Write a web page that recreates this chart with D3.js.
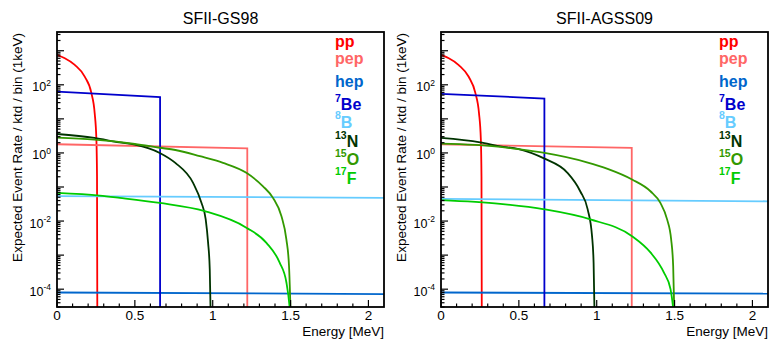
<!DOCTYPE html>
<html>
<head>
<meta charset="utf-8">
<script src="https://cdn.jsdelivr.net/npm/d3@7"></script>
<style>
  body { margin: 0; background: #fff; }
  svg { display: block; font-family: "Liberation Sans", Arial, Helvetica, sans-serif; }
</style>
</head>
<body>
<svg id="chart" width="773" height="347"></svg>
<script>
// categories
const sources = ["pp", "pep", "hep", "7Be", "8B", "13N", "15O", "17F"];
const colors = ["#ff0000", "#ff6666", "#0066cc", "#0000cc", "#66ccff", "#003300", "#339900", "#00cc00"];
const models = ["SFII-GS98", "SFII-AGSS09"];
const xTicks = [0, 0.5, 1, 1.5, 2];
const yLabelExps = [-4, -2, 0, 2];

// GS98 recoil spectra, [energy (MeV), rate]
const gs98_pp = [[0, 753], [0.017, 703], [0.05, 603], [0.114, 384], [0.178, 174], [0.221, 57], [0.242, 14.8], [0.253, 2.45], [0.257, 0.2], [0.259, 1e-5]];
const gs98_pep = [[0, 1.8], [1.222, 1.36], [1.222, 1e-5]];
const gs98_hep = [[0, 8.0e-5], [2.1, 7.2e-5]];
const gs98_be7 = [[0, 63.5], [0.662, 43.5], [0.662, 1e-5]];
const gs98_b8 = [[0, 0.054], [2.1, 0.048]];
const gs98_n13 = [[0, 3.6], [0.24, 2.75], [0.4, 2.04], [0.5, 1.75], [0.66, 1.0], [0.76, 0.51], [0.874, 0.132], [0.927, 0.035], [0.955, 0.0112], [0.97, 0.0024], [0.981, 3.8e-4], [0.988, 1e-5]];
const gs98_o15 = [[0, 2.8], [0.24, 2.45], [0.5, 1.83], [0.66, 1.42], [0.76, 1.22], [0.917, 0.8], [1.066, 0.51], [1.216, 0.26], [1.323, 0.105], [1.387, 0.048], [1.441, 0.014], [1.473, 0.0029], [1.49, 4.8e-4], [1.502, 1e-5]];
const gs98_f17 = [[0, 0.067], [0.274, 0.056], [0.403, 0.048], [0.66, 0.034], [0.949, 0.0195], [1.216, 0.0064], [1.345, 0.0023], [1.43, 6e-4], [1.473, 1.6e-4], [1.494, 3e-5], [1.502, 1e-5]];

// AGSS09 recoil spectra
const agss_pp = [[0, 753], [0.017, 703], [0.05, 600], [0.114, 380], [0.178, 172], [0.221, 57], [0.244, 14.8], [0.256, 2.45], [0.26, 0.2], [0.262, 1e-5]];
const agss_pep = [[0, 1.8], [1.225, 1.4], [1.225, 1e-5]];
const agss_hep = [[0, 8.0e-5], [2.1, 7.4e-5]];
const agss_be7 = [[0, 54.4], [0.664, 39.6], [0.664, 1e-5]];
const agss_b8 = [[0, 0.045], [2.1, 0.038]];
const agss_n13 = [[0, 2.75], [0.251, 2.04], [0.38, 1.56], [0.5, 1.3], [0.665, 0.68], [0.809, 0.27], [0.894, 0.075], [0.942, 0.022], [0.97, 0.0036], [0.98, 6e-4], [0.987, 1e-5]];
const agss_o15 = [[0, 1.87], [0.38, 1.5], [0.465, 1.34], [0.665, 1.0], [0.937, 0.53], [1.07, 0.34], [1.227, 0.166], [1.345, 0.075], [1.409, 0.034], [1.452, 0.0112], [1.478, 0.0029], [1.491, 4.8e-4], [1.5, 1e-5]];
const agss_f17 = [[0, 0.041], [0.38, 0.032], [0.665, 0.022], [0.959, 0.0112], [1.227, 0.0036], [1.345, 0.0012], [1.431, 3.1e-4], [1.474, 1e-4], [1.494, 2e-5], [1.5, 1e-5]];

const panels = [
  { title: models[0], left: 57, series: [gs98_pp, gs98_pep, gs98_hep, gs98_be7, gs98_b8, gs98_n13, gs98_o15, gs98_f17] },
  { title: models[1], left: 441, series: [agss_pp, agss_pep, agss_hep, agss_be7, agss_b8, agss_n13, agss_o15, agss_f17] }
];

const plotTop = 32, W = 327, H = 275;
// legend baselines (per entry), ROOT latex boxes are not evenly spaced
const legendY = [47, 63.5, 87, 110, 127.5, 147, 165, 183.5];

const x = d3.scaleLinear().domain([0, 2.1]).range([0, W]);
const y = d3.scaleLog().domain([3e-5, 3.55e3]).range([H, 0]);

const svg = d3.select("#chart");
svg.append("rect").attr("width", 773).attr("height", 347).attr("fill", "#fff");

const line = d3.line().x(d => x(d[0])).y(d => y(d[1]));
const smooth = d3.line().x(d => x(d[0])).y(d => y(d[1])).curve(d3.curveMonotoneX);

panels.forEach((p, pi) => {
  const g = svg.append("g").attr("transform", "translate(" + p.left + "," + plotTop + ")");

  g.append("clipPath").attr("id", "clip" + pi)
    .append("rect").attr("width", W).attr("height", H);

  // curves
  const curves = g.append("g").attr("clip-path", "url(#clip" + pi + ")");
  p.series.forEach((s, i) => {
    const gen = s.length > 3 ? smooth : line;
    curves.append("path")
      .attr("d", gen(s))
      .attr("fill", "none")
      .attr("stroke", colors[i])
      .attr("stroke-width", 1.8);
  });

  // x ticks (inward)
  const xt = g.append("g").attr("stroke", "#000").attr("stroke-width", 1.2);
  d3.range(0, 21).forEach(k => {
    const v = k / 10;
    const len = k % 5 === 0 ? 7 : 3.5;
    xt.append("line").attr("x1", x(v)).attr("x2", x(v)).attr("y1", H).attr("y2", H - len);
  });
  g.selectAll(".xl").data(xTicks).enter().append("text")
    .attr("x", d => x(d)).attr("y", H + 13)
    .attr("text-anchor", "middle").attr("font-size", 13.5)
    .text(d => d);

  // y ticks, log scale
  const yt = g.append("g").attr("stroke", "#000").attr("stroke-width", 1.2);
  d3.range(-5, 4).forEach(n => {
    d3.range(1, 10).forEach(k => {
      const v = k * Math.pow(10, n);
      if (v < y.domain()[0] || v > y.domain()[1]) return;
      const len = k === 1 ? 7 : 3.5;
      yt.append("line").attr("x1", 0).attr("x2", len).attr("y1", y(v)).attr("y2", y(v));
    });
  });
  yLabelExps.forEach(e => {
    const t = g.append("text")
      .attr("x", -6).attr("y", y(Math.pow(10, e)) + 6.5)
      .attr("text-anchor", "end").attr("font-size", 12.5);
    t.append("tspan").text("10");
    t.append("tspan").attr("font-size", 8.5).attr("dy", -5.5).text(e);
  });

  // frame
  g.append("rect").attr("width", W).attr("height", H)
    .attr("fill", "none").attr("stroke", "#000").attr("stroke-width", 1.8);

  // titles
  g.append("text").attr("x", W / 2).attr("y", 24 - plotTop)
    .attr("text-anchor", "middle").attr("font-size", 16).text(p.title);
  g.append("text").attr("x", W).attr("y", 336 - plotTop)
    .attr("text-anchor", "end").attr("font-size", 13.5).text("Energy [MeV]");
  g.append("text")
    .attr("transform", "translate(-35,1) rotate(-90)")
    .attr("text-anchor", "end").attr("font-size", 13.5)
    .text("Expected Event Rate / ktd / bin (1keV)");

  // legend text
  sources.forEach((name, i) => {
    const m = name.match(/^(\d*)(.*)$/);
    const t = g.append("text")
      .attr("x", 278).attr("y", legendY[i] - plotTop)
      .attr("font-weight", "bold").attr("fill", colors[i]);
    if (m[1]) {
      t.append("tspan").attr("font-size", 10.5).attr("dy", -8.3).text(m[1]);
      t.append("tspan").attr("font-size", 16).attr("dy", 8.3).text(m[2]);
    } else {
      t.append("tspan").attr("font-size", 16).text(m[2]);
    }
  });
});
</script>
</body>
</html>
